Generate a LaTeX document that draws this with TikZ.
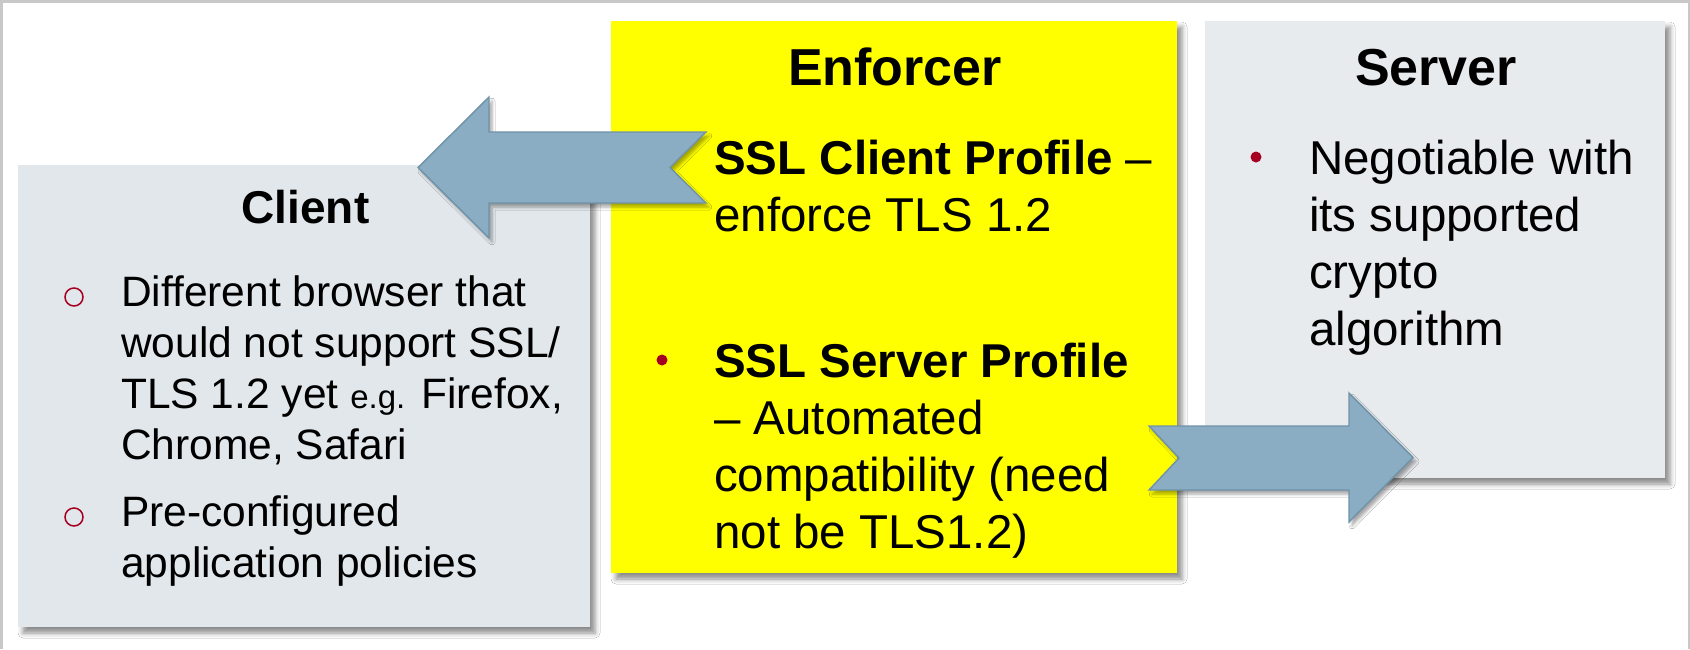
\documentclass[tikz,border=0pt]{standalone}
\usepackage{fontspec}
\setmainfont{Liberation Sans}
\usetikzlibrary{shadows.blur}

\definecolor{clientbg}{RGB}{225,231,235}
\definecolor{serverbg}{RGB}{232,235,238}
\definecolor{enforcerbg}{RGB}{255,255,0}
\definecolor{arrowfill}{RGB}{138,173,196}
\definecolor{arrowedge}{RGB}{112,146,168}
\definecolor{bulletred}{RGB}{165,0,33}
\definecolor{framegray}{RGB}{200,200,200}

\tikzset{
  panel/.style={inner sep=0pt, outer sep=0pt, anchor=north west,
    blur shadow={shadow xshift=5pt, shadow yshift=-6pt,
                 shadow blur radius=5pt, shadow opacity=45}},
  blockarrow/.style={fill=arrowfill, draw=arrowedge, line width=1.4pt,
    line join=miter,
    blur shadow={shadow xshift=3pt, shadow yshift=-4pt,
                 shadow blur radius=3pt, shadow opacity=35}},
  heading/.style={inner sep=0pt, anchor=base,
    font=\fontsize{52}{60}\selectfont\bfseries},
  bodytext/.style={inner sep=0pt, anchor=base west,
    font=\fontsize{47.5}{57}\selectfont},
  clienttext/.style={inner sep=0pt, anchor=base west,
    font=\fontsize{42.5}{51}\selectfont},
  ring/.style={circle, draw=bulletred, line width=1.5pt,
    minimum size=18pt, inner sep=0pt},
  dot/.style={circle, fill=bulletred, minimum size=11pt, inner sep=0pt},
}

\begin{document}
\begin{tikzpicture}[x=1pt, y=-1pt]
  \useasboundingbox (0,0) rectangle (1690,649);
  \fill[white] (0,0) rectangle (1690,649);

  % thin frame on the left, top and right edges
  \fill[framegray] (0,0) rectangle (3,649);
  \fill[framegray] (0,0) rectangle (1690,3);
  \fill[framegray] (1687.5,0) rectangle (1690,649);

  % the three panels
  \node[panel, fill=clientbg, minimum width=572pt, minimum height=462pt]
    (client) at (18,165) {};
  \node[panel, fill=enforcerbg, minimum width=566pt, minimum height=552pt]
    (enforcer) at (611,21) {};
  \node[panel, fill=serverbg, minimum width=460pt, minimum height=457pt]
    (server) at (1205,21) {};

  % hidden bullet of the first enforcer item (under the arrow)
  \node[dot] (ebullet1) at (662,157) {};

  % block arrow: enforcer -> client
  \draw[blockarrow] (418,167.5) -- (489,97) -- (489,132) -- (706,132)
    -- (670,167.5) -- (706,203) -- (489,203) -- (489,238) -- cycle;

  % block arrow: enforcer -> server
  \draw[blockarrow] (1149,426) -- (1349,426) -- (1349,393) -- (1413,457.5)
    -- (1349,522) -- (1349,490) -- (1149,490) -- (1179,458) -- cycle;

  % headings
  \node[heading, font=\fontsize{46}{54}\selectfont\bfseries]
    (clienthead) at (305.5,223) {Client};
  \node[heading] (enforcerhead) at (895,85) {Enforcer};
  \node[heading] (serverhead) at (1436,85) {Server};

  % client items
  \node[ring] (cb1) at (74,297) {};
  \node[clienttext] (ct1) at (121,306) {\begin{tabular}[t]{@{}l@{}}
    Different browser that\\
    would not support SSL/\\
    TLS 1.2 yet {\fontsize{33}{40}\selectfont e.g.} Firefox,\\
    Chrome, Safari\end{tabular}};
  \node[ring] (cb2) at (74,517) {};
  \node[clienttext] (ct2) at (121,526.5) {\begin{tabular}[t]{@{}l@{}}
    Pre-configured\\
    application policies\end{tabular}};

  % enforcer items
  \node[bodytext] (et1) at (714,174) {\begin{tabular}[t]{@{}l@{}}
    {\bfseries SSL Client Profile} --\\
    enforce TLS 1.2\end{tabular}};
  \node[dot] (ebullet2) at (662,360) {};
  \node[bodytext] (et2) at (714,377.5) {\begin{tabular}[t]{@{}l@{}}
    {\bfseries SSL Server Profile}\\
    -- Automated\\
    compatibility (need\\
    not be TLS1.2)\end{tabular}};

  % server item
  \node[dot] (sbullet) at (1256,157) {};
  \node[bodytext] (st1) at (1309,174) {\begin{tabular}[t]{@{}l@{}}
    Negotiable with\\
    its supported\\
    crypto\\
    algorithm\end{tabular}};
\end{tikzpicture}
\end{document}
